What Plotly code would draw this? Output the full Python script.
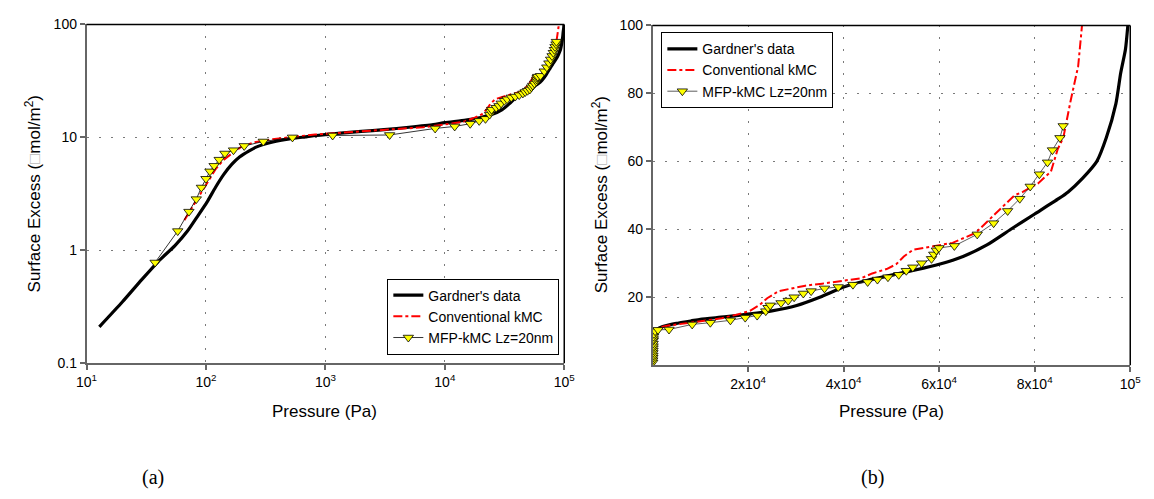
import plotly.graph_objects as go

# Gardner's experimental isotherm
gardner_p = [12.8, 20, 29, 40, 55, 70, 85, 102, 120, 141, 165, 191, 230, 263, 363, 500, 680,
             1000, 2000, 3100, 5000, 8000, 10000, 15000, 20000, 25000, 30000, 35000, 40000,
             45000, 50000, 55000, 60000, 65000, 70000, 75000, 80000, 85000, 87000, 90000,
             93000, 95000, 97000, 98000, 99000, 99500]
gardner_g = [0.21, 0.35, 0.55, 0.8, 1.1, 1.48, 2.0, 2.67, 3.6, 4.7, 5.8, 6.7, 7.6, 8.2, 9.1,
             9.7, 10.1, 10.6, 11.3, 11.7, 12.3, 13.0, 13.5, 14.2, 15.0, 16.0, 17.5, 20.0, 23.0,
             25.0, 26.5, 28.0, 29.7, 32.0, 35.4, 40.0, 44.5, 49.0, 51.0, 55.0, 60.0, 67.0, 77.0,
             86.0, 93.0, 100.0]

# Conventional kinetic Monte Carlo
conv_p = [66, 80, 100, 120, 140, 170, 200, 250, 350, 500, 820, 1200, 1800, 3100, 6600, 11000,
          14500, 18000, 20400, 22500, 24000, 26400, 29300, 32000, 35500, 37800, 41000, 43700,
          46000, 49000, 51000, 52600, 54600, 58700, 62800, 67600, 69600, 71700, 75800, 77500,
          80700, 83400, 84800, 86000, 87500, 88100, 89100, 89500, 89900]
conv_g = [1.85, 2.6, 3.8, 5.2, 6.3, 7.4, 8.3, 9.0, 9.6, 10.0, 10.6, 10.9, 11.2, 11.6, 12.3, 13.2,
          13.8, 15.0, 16.0, 17.8, 19.7, 21.8, 22.6, 23.4, 24.0, 24.5, 25.0, 25.6, 27.0, 28.3,
          29.7, 32.0, 34.0, 35.0, 36.0, 38.9, 41.7, 44.5, 50.0, 51.0, 53.5, 57.0, 63.5, 67.0,
          77.7, 81.6, 88.0, 94.0, 100.0]

# MFP-kMC with Lz = 20 nm
mfp_p = [37.5, 58, 72, 83, 91.6, 100, 108, 117, 129, 144, 170, 209, 302, 530, 1150, 3450, 8300,
         12100, 16300, 19400, 21900, 23700, 24170, 24640, 26900, 28400, 29640, 31560, 33200,
         36000, 38870, 41950, 45030, 47080, 49280, 51540, 53120, 54480, 56330, 58390, 58870,
         59410, 59960, 63180, 67970, 71400, 74330, 76870, 79060, 80970, 82680, 83710, 85280,
         85960]
mfp_g = [0.78, 1.48, 2.2, 2.84, 3.6, 4.3, 5.0, 5.6, 6.35, 7.2, 7.7, 8.4, 9.2, 10.0, 10.4, 10.5,
         12.0, 12.5, 13.2, 14.0, 14.6, 15.9, 16.9, 17.6, 18.3, 19.0, 20.0, 21.1, 21.8, 22.6,
         23.0, 23.7, 24.5, 25.2, 25.9, 26.6, 27.8, 28.8, 30.0, 31.3, 32.6, 33.8, 34.5, 35.1,
         38.5, 41.8, 45.4, 49.0, 52.6, 56.2, 59.7, 63.3, 66.9, 70.4]

# tick labels
log_x_ticks = [10, 100, 1000, 10000, 100000]
log_x_text = ["10<sup>1</sup>", "10<sup>2</sup>", "10<sup>3</sup>", "10<sup>4</sup>", "10<sup>5</sup>"]
log_y_ticks = [0.1, 1, 10, 100]
log_y_text = ["0.1", "1", "10", "100"]
lin_x_ticks = [20000, 40000, 60000, 80000, 100000]
lin_x_text = ["2x10<sup>4</sup>", "4x10<sup>4</sup>", "6x10<sup>4</sup>", "8x10<sup>4</sup>", "10<sup>5</sup>"]
lin_y_ticks = [20, 40, 60, 80, 100]

FONT = "Liberation Sans, Arial, sans-serif"
SERIF = "Liberation Serif, Times New Roman, serif"
names = ["Gardner's data", "Conventional kMC", "MFP-kMC Lz=20nm"]

fig = go.Figure()

for xa, ya, leg, mfp_line in [("x", "y", "legend", "black"), ("x2", "y2", "legend2", "#333333")]:
    fig.add_trace(go.Scatter(x=gardner_p, y=gardner_g, mode="lines", name=names[0],
                             line=dict(color="black", width=3.2, shape="spline", smoothing=0.6),
                             xaxis=xa, yaxis=ya, legend=leg))
    fig.add_trace(go.Scatter(x=conv_p, y=conv_g, mode="lines", name=names[1],
                             line=dict(color="red", width=2, dash="dashdot"),
                             xaxis=xa, yaxis=ya, legend=leg))
    fig.add_trace(go.Scatter(x=mfp_p, y=mfp_g, mode="lines+markers", name=names[2],
                             line=dict(color=mfp_line, width=0.8),
                             marker=dict(symbol="triangle-down", size=9, color="#ffff00",
                                         line=dict(color="black", width=0.8)),
                             xaxis=xa, yaxis=ya, legend=leg))

grid = dict(showgrid=True, gridcolor="#7a7a7a", gridwidth=1.3, griddash="2px,10px")
axis_common = dict(showline=True, linecolor="#666666", linewidth=1.5, ticks="outside",
                   ticklen=5, tickcolor="#666666", tickwidth=1.5, zeroline=False,
                   tickfont=dict(family=FONT, size=14, color="black"), **grid)

legend_style = dict(bgcolor="white", bordercolor="black", borderwidth=1,
                    font=dict(family=FONT, size=14), tracegroupgap=0)

fig.update_layout(
    width=1154, height=499,
    margin=dict(l=0, r=0, t=0, b=0),
    paper_bgcolor="white", plot_bgcolor="white",
    font=dict(family=FONT, size=12, color="black"),
    xaxis=dict(type="log", range=[1, 5], domain=[77 / 1154, 564 / 1154],
               tickvals=log_x_ticks, ticktext=log_x_text, anchor="y", **axis_common),
    yaxis=dict(type="log", range=[-1, 2], domain=[(499 - 367) / 499, (499 - 17) / 499],
               tickvals=log_y_ticks, ticktext=log_y_text, anchor="x", **axis_common),
    xaxis2=dict(range=[0, 100000], domain=[654 / 1154, 1141 / 1154],
                tickvals=lin_x_ticks, ticktext=lin_x_text, anchor="y2", **axis_common),
    yaxis2=dict(range=[0, 100], domain=[(499 - 369) / 499, (499 - 18) / 499],
                tickvals=lin_y_ticks, anchor="x2", **axis_common),
    legend=dict(x=559 / 1154, y=(499 - 358) / 499, xanchor="right", yanchor="bottom",
                **legend_style),
    legend2=dict(x=663 / 1154, y=(499 - 25) / 499, xanchor="left", yanchor="top",
                 **legend_style),
    showlegend=True,
)

# top and right frame lines of each panel
for xr, yr in [("x domain", "y domain"), ("x2 domain", "y2 domain")]:
    fig.add_shape(type="line", xref=xr, yref=yr, x0=0, x1=1, y0=1, y1=1,
                  line=dict(color="black", width=1.5))
    fig.add_shape(type="line", xref=xr, yref=yr, x0=1, x1=1, y0=0, y1=1,
                  line=dict(color="black", width=1.5))

ytitle = "Surface Excess (<span style='color:#bbbbbb'>\u25a1</span>mol/m<sup>2</sup>)"
annotations = [
    dict(text="Pressure (Pa)", x=320 / 1154, y=1 - 417 / 499),
    dict(text="Pressure (Pa)", x=898 / 1154, y=1 - 417 / 499),
    dict(text=ytitle, x=22 / 1154, y=1 - 192 / 499, textangle=-90),
    dict(text=ytitle, x=600 / 1154, y=1 - 193 / 499, textangle=-90),
]
for a in annotations:
    fig.add_annotation(xref="paper", yref="paper", showarrow=False,
                       xanchor="center", yanchor="middle",
                       font=dict(family=FONT, size=17, color="black"), **a)

for lbl, xc in [("(a)", 145), ("(b)", 878)]:
    fig.add_annotation(text=lbl, xref="paper", yref="paper", x=xc / 1154, y=1 - 485 / 499,
                       showarrow=False, xanchor="center", yanchor="middle",
                       font=dict(family=SERIF, size=20, color="black"))

fig.write_html("out.html")
